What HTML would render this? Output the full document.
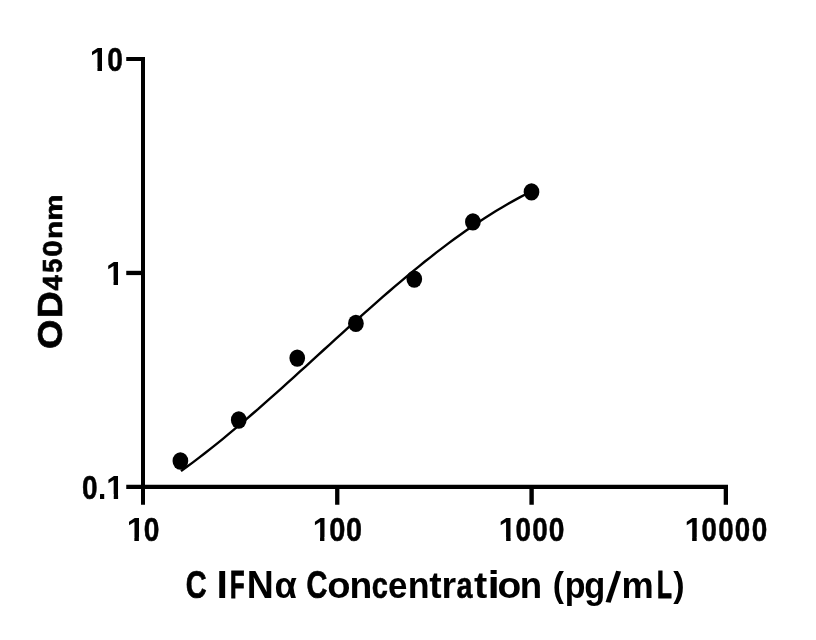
<!DOCTYPE html>
<html><head><meta charset="utf-8"><title>Standard curve</title>
<style>html,body{margin:0;padding:0;background:#fff;}svg{display:block;will-change:transform;}text{font-family:"Liberation Sans",sans-serif;font-weight:bold;fill:#000;}</style>
</head><body>
<svg width="816" height="640" viewBox="0 0 816 640">
<defs><clipPath id="feet" clipPathUnits="userSpaceOnUse"><path clip-rule="evenodd" d="M0,0H816V640H0Z M127.52,536.96H134.36V542.30H127.52Z M138.90,536.96H145.32V542.30H138.90Z M313.43,536.96H320.04V542.30H313.43Z M324.40,536.96H330.61V542.30H324.40Z M499.43,536.96H506.15V542.30H499.43Z M510.60,536.96H516.91V542.30H510.60Z M685.32,536.96H692.16V542.30H685.32Z M696.70,536.96H703.12V542.30H696.70Z M90.62,66.96H97.46V72.30H90.62Z M102.00,66.96H108.42V72.30H102.00Z M106.83,280.56H113.55V285.90H106.83Z M118.00,280.56H124.31V285.90H118.00Z M107.13,494.36H113.74V499.70H107.13Z M118.10,494.36H124.31V499.70H118.10Z"/></clipPath></defs>
<rect width="816" height="640" fill="#fff"/>
<g fill="#000">
<!-- axes -->
<rect x="141" y="57" width="4" height="447.75"/>
<rect x="126.25" y="484.75" width="601.75" height="4.25"/>
<!-- y ticks -->
<rect x="126.25" y="57" width="16" height="4"/>
<rect x="126.25" y="270.8" width="16" height="4.3"/>
<!-- x ticks -->
<rect x="335.1" y="486" width="4.3" height="18.75"/>
<rect x="529.4" y="486" width="4.4" height="18.75"/>
<rect x="723.7" y="486" width="4.3" height="18.75"/>
</g>
<path d="M181.0,471.1 L186.9,466.8 L192.9,462.4 L198.8,457.9 L204.8,453.3 L210.7,448.6 L216.7,443.9 L222.6,439.1 L228.5,434.2 L234.5,429.2 L240.4,424.2 L246.4,419.2 L252.3,414.0 L258.3,408.9 L264.2,403.6 L270.1,398.4 L276.1,393.1 L282.0,387.8 L288.0,382.4 L293.9,377.1 L299.8,371.7 L305.8,366.3 L311.7,360.9 L317.7,355.4 L323.6,350.0 L329.6,344.6 L335.5,339.2 L341.4,333.8 L347.4,328.4 L353.3,323.0 L359.3,317.7 L365.2,312.4 L371.2,307.1 L377.1,301.9 L383.0,296.7 L389.0,291.5 L394.9,286.4 L400.9,281.4 L406.8,276.4 L412.8,271.4 L418.7,266.6 L424.6,261.8 L430.6,257.1 L436.5,252.4 L442.5,247.9 L448.4,243.4 L454.3,239.0 L460.3,234.7 L466.2,230.5 L472.2,226.4 L478.1,222.4 L484.1,218.5 L490.0,214.7 L495.9,211.0 L501.9,207.5 L507.8,204.0 L513.8,200.6 L519.7,197.4 L525.7,194.2 L531.6,191.2" fill="none" stroke="#000" stroke-width="2.4" stroke-linecap="butt" stroke-linejoin="round"/>
<g fill="#000">
<ellipse cx="180.4" cy="461" rx="7.85" ry="8.7"/>
<ellipse cx="238.75" cy="420" rx="7.85" ry="8.7"/>
<ellipse cx="297.25" cy="358.1" rx="7.85" ry="8.7"/>
<ellipse cx="355.9" cy="323.4" rx="7.85" ry="8.7"/>
<ellipse cx="414.3" cy="279.1" rx="7.85" ry="8.7"/>
<ellipse cx="472.9" cy="221.9" rx="7.85" ry="8.7"/>
<ellipse cx="531.5" cy="191.9" rx="7.85" ry="8.7"/>
</g>
<text y="597.8" font-size="37.9"><tspan x="185.85" y="597.8" textLength="20.91" lengthAdjust="spacingAndGlyphs" stroke="#000" stroke-width="0.67">C</tspan> <tspan x="216.46" y="597.8" textLength="11.38" lengthAdjust="spacingAndGlyphs">I</tspan><tspan x="230.10" y="597.8" textLength="14.57" lengthAdjust="spacingAndGlyphs" stroke="#000" stroke-width="1.0">F</tspan><tspan x="246.70" y="597.8" textLength="27.02" lengthAdjust="spacingAndGlyphs">N</tspan><tspan x="274.58" y="597.8" textLength="22.40" lengthAdjust="spacingAndGlyphs" font-size="36.2">α</tspan> <tspan x="306.45" y="597.8" textLength="20.91" lengthAdjust="spacingAndGlyphs" stroke="#000" stroke-width="0.67">C</tspan><tspan x="327.21" y="597.8" textLength="23.28" lengthAdjust="spacingAndGlyphs" font-size="36.2">o</tspan><tspan x="349.64" y="597.8" textLength="22.77" lengthAdjust="spacingAndGlyphs" font-size="36.2">n</tspan><tspan x="371.74" y="597.8" textLength="16.14" lengthAdjust="spacingAndGlyphs" stroke="#000" stroke-width="0.54" font-size="36.2">c</tspan><tspan x="388.03" y="597.8" textLength="19.46" lengthAdjust="spacingAndGlyphs" font-size="36.2">e</tspan><tspan x="407.64" y="597.8" textLength="21.88" lengthAdjust="spacingAndGlyphs" font-size="36.2">n</tspan><tspan x="429.25" y="597.8" textLength="12.41" lengthAdjust="spacingAndGlyphs" font-size="36.2">t</tspan><tspan x="441.52" y="597.8" textLength="14.65" lengthAdjust="spacingAndGlyphs" font-size="36.2">r</tspan><tspan x="456.54" y="597.8" textLength="16.00" lengthAdjust="spacingAndGlyphs" stroke="#000" stroke-width="0.56" font-size="36.2">a</tspan><tspan x="474.11" y="597.8" textLength="13.27" lengthAdjust="spacingAndGlyphs" font-size="36.2">t</tspan><tspan x="487.50" y="597.8" textLength="12.35" lengthAdjust="spacingAndGlyphs">i</tspan><tspan x="497.58" y="597.8" textLength="23.74" lengthAdjust="spacingAndGlyphs" font-size="36.2">o</tspan><tspan x="519.88" y="597.8" textLength="22.39" lengthAdjust="spacingAndGlyphs" font-size="36.2">n</tspan> <tspan x="552.72" y="596.8" textLength="11.21" lengthAdjust="spacingAndGlyphs" font-size="35.8">(</tspan><tspan x="564.76" y="597.8" textLength="20.73" lengthAdjust="spacingAndGlyphs" font-size="36.2">p</tspan><tspan x="584.29" y="597.8" textLength="21.01" lengthAdjust="spacingAndGlyphs" font-size="36.2">g</tspan><tspan x="605.2" y="601.0" font-size="43.3" rotate="8">/</tspan><tspan x="621.41" y="597.8" textLength="32.24" lengthAdjust="spacingAndGlyphs" font-size="36.2">m</tspan><tspan x="656.96" y="597.8" textLength="14.90" lengthAdjust="spacingAndGlyphs" stroke="#000" stroke-width="0.98">L</tspan><tspan x="673.37" y="596.8" textLength="11.33" lengthAdjust="spacingAndGlyphs" font-size="35.8">)</tspan></text>
<text transform="translate(62.08,400.0) rotate(-90) scale(1,0.925)" y="0" font-size="38.5"><tspan x="51.10" textLength="29.44" lengthAdjust="spacingAndGlyphs" stroke="#000" stroke-width="0.7">O</tspan><tspan x="81.74" textLength="27.08" lengthAdjust="spacingAndGlyphs" stroke="#000" stroke-width="0.7">D</tspan><tspan x="109.43" textLength="15.37" lengthAdjust="spacingAndGlyphs" stroke="#000" stroke-width="0.7" font-size="29.0">4</tspan><tspan x="127.27" textLength="14.08" lengthAdjust="spacingAndGlyphs" stroke="#000" stroke-width="0.7" font-size="29.0">5</tspan><tspan x="143.19" textLength="16.37" lengthAdjust="spacingAndGlyphs" stroke="#000" stroke-width="0.7" font-size="29.0">0</tspan><tspan x="160.98" textLength="18.21" lengthAdjust="spacingAndGlyphs" stroke="#000" stroke-width="0.7" font-size="26.6">n</tspan><tspan x="179.20" textLength="26.28" lengthAdjust="spacingAndGlyphs" stroke="#000" stroke-width="0.7" font-size="26.6">m</tspan></text>
<g clip-path="url(#feet)">
<text y="541.3" font-size="33.9"><tspan x="126.64" textLength="18.40" lengthAdjust="spacingAndGlyphs">1</tspan><tspan x="143.74" textLength="15.67" lengthAdjust="spacingAndGlyphs" stroke="#000" stroke-width="0.5">0</tspan></text>
<text y="541.3" font-size="33.9"><tspan x="312.63" textLength="17.66" lengthAdjust="spacingAndGlyphs">1</tspan><tspan x="329.30" textLength="16.14" lengthAdjust="spacingAndGlyphs" stroke="#000" stroke-width="0.5">0</tspan><tspan x="346.11" textLength="16.02" lengthAdjust="spacingAndGlyphs" stroke="#000" stroke-width="0.5">0</tspan></text>
<text y="541.3" font-size="33.9"><tspan x="498.58" textLength="18.03" lengthAdjust="spacingAndGlyphs">1</tspan><tspan x="515.54" textLength="15.55" lengthAdjust="spacingAndGlyphs" stroke="#000" stroke-width="0.5">0</tspan><tspan x="532.14" textLength="15.55" lengthAdjust="spacingAndGlyphs" stroke="#000" stroke-width="0.5">0</tspan><tspan x="548.84" textLength="15.67" lengthAdjust="spacingAndGlyphs" stroke="#000" stroke-width="0.5">0</tspan></text>
<text y="541.3" font-size="33.9"><tspan x="684.44" textLength="18.40" lengthAdjust="spacingAndGlyphs">1</tspan><tspan x="701.55" textLength="15.44" lengthAdjust="spacingAndGlyphs" stroke="#000" stroke-width="0.5">0</tspan><tspan x="718.15" textLength="15.44" lengthAdjust="spacingAndGlyphs" stroke="#000" stroke-width="0.5">0</tspan><tspan x="734.75" textLength="15.44" lengthAdjust="spacingAndGlyphs" stroke="#000" stroke-width="0.5">0</tspan><tspan x="751.64" textLength="15.55" lengthAdjust="spacingAndGlyphs" stroke="#000" stroke-width="0.5">0</tspan></text>
<text y="71.3" font-size="33.9"><tspan x="89.74" textLength="18.40" lengthAdjust="spacingAndGlyphs">1</tspan><tspan x="107.14" textLength="15.67" lengthAdjust="spacingAndGlyphs" stroke="#000" stroke-width="0.5">0</tspan></text>
<text y="284.9" font-size="33.9"><tspan x="105.98" textLength="18.03" lengthAdjust="spacingAndGlyphs">1</tspan></text>
<text y="498.7" font-size="33.9"><tspan x="82.04" textLength="15.61" lengthAdjust="spacingAndGlyphs" stroke="#000" stroke-width="0.5">0</tspan><tspan x="97.88" textLength="8.27" lengthAdjust="spacingAndGlyphs">.</tspan><tspan x="106.33" textLength="17.66" lengthAdjust="spacingAndGlyphs">1</tspan></text>
</g>
</svg>
</body></html>
